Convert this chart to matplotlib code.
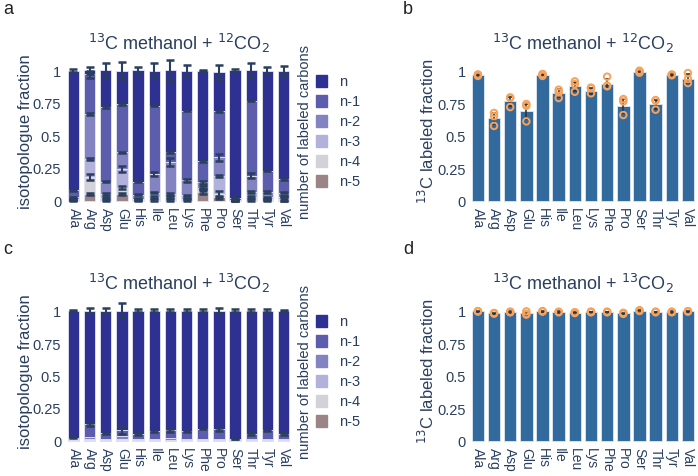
import numpy as np
import matplotlib.pyplot as plt

plt.rcParams['font.family'] = ['Liberation Sans', 'DejaVu Sans']

amino = ["Ala", "Arg", "Asp", "Glu", "His", "Ile", "Leu", "Lys", "Phe", "Pro", "Ser", "Thr", "Tyr", "Val"]
iso_labels = ["n", "n-1", "n-2", "n-3", "n-4", "n-5"]
iso_colors = ["#2e3191", "#5d5dae", "#8383c2", "#b1b1dc", "#d2d2d8", "#9a8486"]

# panel a: 13C methanol + 12CO2, isotopologue fractions (n ... n-5)
a_n  = [0.920, 0.030, 0.280, 0.258, 0.855, 0.270, 0.628, 0.310, 0.695, 0.297, 0.980, 0.232, 0.770, 0.835]
a_n1 = [0.055, 0.305, 0.575, 0.372, 0.100, 0.525, 0.077, 0.536, 0.165, 0.358, 0.015, 0.578, 0.166, 0.105]
a_n2 = [0.015, 0.345, 0.095, 0.128, 0.030, 0.145, 0.245, 0.115, 0.040, 0.140, 0.003, 0.126, 0.040, 0.030]
a_n3 = [0.005, 0.140, 0.030, 0.142, 0.010, 0.035, 0.025, 0.025, 0.020, 0.141, 0.001, 0.040, 0.015, 0.015]
a_n4 = [0.005, 0.130, 0.015, 0.050, 0.005, 0.020, 0.020, 0.010, 0.012, 0.025, 0.001, 0.020, 0.005, 0.010]
a_n5 = [0.000, 0.050, 0.005, 0.050, 0.000, 0.005, 0.005, 0.004, 0.068, 0.025, 0.000, 0.004, 0.004, 0.005]
a_err_n  = [0.015, 0.025, 0.055, 0.065, 0.025, 0.055, 0.080, 0.045, 0.004, 0.055, 0.015, 0.055, 0.025, 0.035]
a_err_n1 = [0.004, 0.030, 0.008, 0.006, 0.004, 0.005, 0.006, 0.005, 0.006, 0.008, 0.004, 0.004, 0.006, 0.005]
a_err_n2 = [0.004, 0.008, 0.006, 0.006, 0.004, 0.015, 0.030, 0.010, 0.012, 0.025, 0.004, 0.020, 0.010, 0.006]
a_err_n3 = [0.004, 0.006, 0.004, 0.020, 0.004, 0.006, 0.006, 0.006, 0.008, 0.008, 0.004, 0.006, 0.006, 0.006]
a_err_n4 = [0.004, 0.025, 0.006, 0.010, 0.004, 0.006, 0.006, 0.006, 0.010, 0.020, 0.004, 0.008, 0.006, 0.020]
a_err_n5 = [0.002, 0.010, 0.006, 0.010, 0.002, 0.006, 0.006, 0.006, 0.020, 0.010, 0.002, 0.006, 0.006, 0.010]

# panel c: 13C methanol + 13CO2
c_n  = [0.980, 0.875, 0.945, 0.920, 0.950, 0.925, 0.920, 0.930, 0.910, 0.915, 0.990, 0.950, 0.920, 0.950]
c_n1 = [0.012, 0.095, 0.040, 0.045, 0.040, 0.060, 0.060, 0.060, 0.075, 0.070, 0.006, 0.040, 0.065, 0.040]
c_n2 = [0.005, 0.020, 0.010, 0.025, 0.007, 0.010, 0.015, 0.007, 0.010, 0.010, 0.002, 0.007, 0.010, 0.007]
c_n3 = [0.002, 0.006, 0.003, 0.006, 0.002, 0.003, 0.003, 0.002, 0.003, 0.003, 0.001, 0.002, 0.003, 0.002]
c_n4 = [0.001, 0.003, 0.001, 0.003, 0.001, 0.001, 0.001, 0.001, 0.001, 0.001, 0.001, 0.001, 0.001, 0.001]
c_n5 = [0.000, 0.001, 0.001, 0.001, 0.000, 0.001, 0.001, 0.000, 0.001, 0.001, 0.000, 0.000, 0.001, 0.000]
c_err_n  = [0.005, 0.020, 0.020, 0.060, 0.008, 0.010, 0.015, 0.010, 0.008, 0.018, 0.008, 0.010, 0.012, 0.005]
c_err_n1 = [0.004, 0.012, 0.006, 0.030, 0.004, 0.006, 0.012, 0.004, 0.004, 0.012, 0.002, 0.004, 0.004, 0.004]

# panels b, d: 13C labeled fraction with three replicates
b_mean = [0.967, 0.633, 0.764, 0.687, 0.967, 0.826, 0.880, 0.844, 0.900, 0.728, 0.992, 0.741, 0.967, 0.940]
b_err  = [0.008, 0.045, 0.035, 0.060, 0.008, 0.030, 0.035, 0.020, 0.035, 0.055, 0.008, 0.035, 0.004, 0.035]
b_rep = [[0.970, 0.960, 0.970], [0.675, 0.650, 0.575], [0.795, 0.790, 0.720], [0.744, 0.730, 0.610],
         [0.970, 0.975, 0.960], [0.854, 0.833, 0.790], [0.918, 0.897, 0.838], [0.870, 0.864, 0.826],
         [0.954, 0.885, 0.880], [0.782, 0.764, 0.659], [0.995, 1.000, 0.985], [0.774, 0.770, 0.700],
         [0.970, 0.970, 0.965], [0.982, 0.936, 0.905]]
d_mean = [0.995, 0.980, 0.990, 0.980, 0.995, 0.990, 0.985, 0.990, 0.990, 0.980, 1.000, 0.990, 0.990, 0.995]
d_err  = [0.004, 0.006, 0.005, 0.012, 0.003, 0.004, 0.005, 0.003, 0.003, 0.006, 0.004, 0.003, 0.004, 0.003]
d_rep = [[0.997, 0.994, 0.996], [0.983, 0.978, 0.980], [0.993, 0.988, 0.990], [0.995, 0.975, 0.970],
         [0.997, 0.994, 0.995], [0.992, 0.988, 0.990], [0.988, 0.982, 0.986], [0.993, 0.988, 0.990],
         [0.993, 0.988, 0.990], [0.984, 0.976, 0.980], [1.004, 0.998, 1.000], [0.993, 0.988, 0.990],
         [0.993, 0.988, 0.990], [0.997, 0.993, 0.995]]

TXT = "#2a3f5f"
BAR = "#336a9e"
ORANGE = "#f5a25d"
W, H = 698, 477

fig = plt.figure(figsize=(6.98, 4.77), dpi=100)


def make_ax(left_px, top0_px):
    # top0_px: pixel row of y=1 ; y=0 is 130 px lower
    ylo, yhi = -0.02, 1.10
    ppu = 130.0
    top = top0_px - (yhi - 1) * ppu
    bottom = top0_px + ppu + (0 - ylo) * ppu
    return fig.add_axes([left_px / W, 1 - bottom / H, 226.2 / W, (bottom - top) / H]), (ylo, yhi)


def style(ax, ylims, ylabel, title):
    ax.set_ylim(*ylims)
    ax.set_xlim(-0.5, 13.5)
    ax.set_xticks(range(len(amino)))
    ax.set_xticklabels(amino, rotation=-90, fontsize=10, color=TXT)
    ax.set_yticks([0, 0.25, 0.5, 0.75, 1])
    ax.set_yticklabels(["0", "0.25", "0.5", "0.75", "1"], fontsize=10.5, color=TXT)
    ax.tick_params(length=0, pad=3)
    for s in ax.spines.values():
        s.set_visible(False)
    ax.set_ylabel(ylabel, fontsize=12, color=TXT, labelpad=0)
    ax.set_title(title, fontsize=13, color=TXT, pad=6)


def stacked(ax, layers, errs):
    x = np.arange(len(amino))
    bottom = np.zeros(len(amino))
    order = list(range(len(layers)))[::-1]  # n-5 at bottom
    tops = []
    for i in order:
        vals = np.array(layers[i])
        ax.bar(x, vals, 0.7, bottom=bottom, color=iso_colors[i], edgecolor="#e4e4f2",
               linewidth=0.6, zorder=2)
        bottom = bottom + vals
        tops.append((i, bottom.copy()))
    for i, top in tops:
        if errs[i] is not None:
            ax.errorbar(x, top, yerr=errs[i], fmt="none", ecolor=TXT, elinewidth=1.5,
                        capsize=3, capthick=1.8, zorder=3)


def legend(top_px):
    for k, lab in enumerate(iso_labels):
        y = top_px + k * 20
        fig.patches.append(plt.Rectangle((316 / W, 1 - (y + 6) / H), 11 / W, 12 / H,
                                         transform=fig.transFigure, color=iso_colors[k], figure=fig))
        fig.text(339 / W, 1 - y / H, lab, fontsize=10.5, color=TXT, va="center", ha="left")
    fig.text(305 / W, 1 - (top_px + 50) / H, "number of labeled carbons", rotation=90,
             fontsize=10.5, color=TXT, va="center", ha="center")


def labeled(ax, mean, err, reps):
    x = np.arange(len(amino))
    ax.bar(x, mean, 0.77, color=BAR, edgecolor="#dfe8f2", linewidth=0.6, zorder=2)
    ax.errorbar(x, mean, yerr=err, fmt="none", ecolor="#333333", elinewidth=1.2,
                capsize=1.5, capthick=1.2, zorder=3)
    for j in range(3):
        ax.scatter(x, [r[j] for r in reps], s=22, facecolors="none", edgecolors=ORANGE,
                   linewidths=1.4, zorder=4)


t12 = r"$^{13}$C methanol + $^{12}$CO$_2$"
t13 = r"$^{13}$C methanol + $^{13}$CO$_2$"

ax_a, yl = make_ax(65.4, 71.5)
stacked(ax_a, [a_n, a_n1, a_n2, a_n3, a_n4, a_n5],
        [a_err_n, a_err_n1, a_err_n2, a_err_n3, a_err_n4, a_err_n5])
style(ax_a, yl, "isotopologue fraction", t12)
legend(82)

ax_c, yl = make_ax(65.4, 311.5)
stacked(ax_c, [c_n, c_n1, c_n2, c_n3, c_n4, c_n5],
        [c_err_n, c_err_n1, None, None, None, None])
style(ax_c, yl, "isotopologue fraction", t13)
legend(322)

ax_b, yl = make_ax(469.8, 71.7)
labeled(ax_b, b_mean, b_err, b_rep)
style(ax_b, yl, r"$^{13}$C labeled fraction", t12)

ax_d, yl = make_ax(469.8, 311.7)
labeled(ax_d, d_mean, d_err, d_rep)
style(ax_d, yl, r"$^{13}$C labeled fraction", t13)

for lab, px, py in [("a", 3, 10), ("b", 403, 10), ("c", 3, 250), ("d", 403, 250)]:
    fig.text(px / W, 1 - py / H, lab, fontsize=13, color="#222222", va="center", ha="left")

plt.savefig("out.png", dpi=100)
